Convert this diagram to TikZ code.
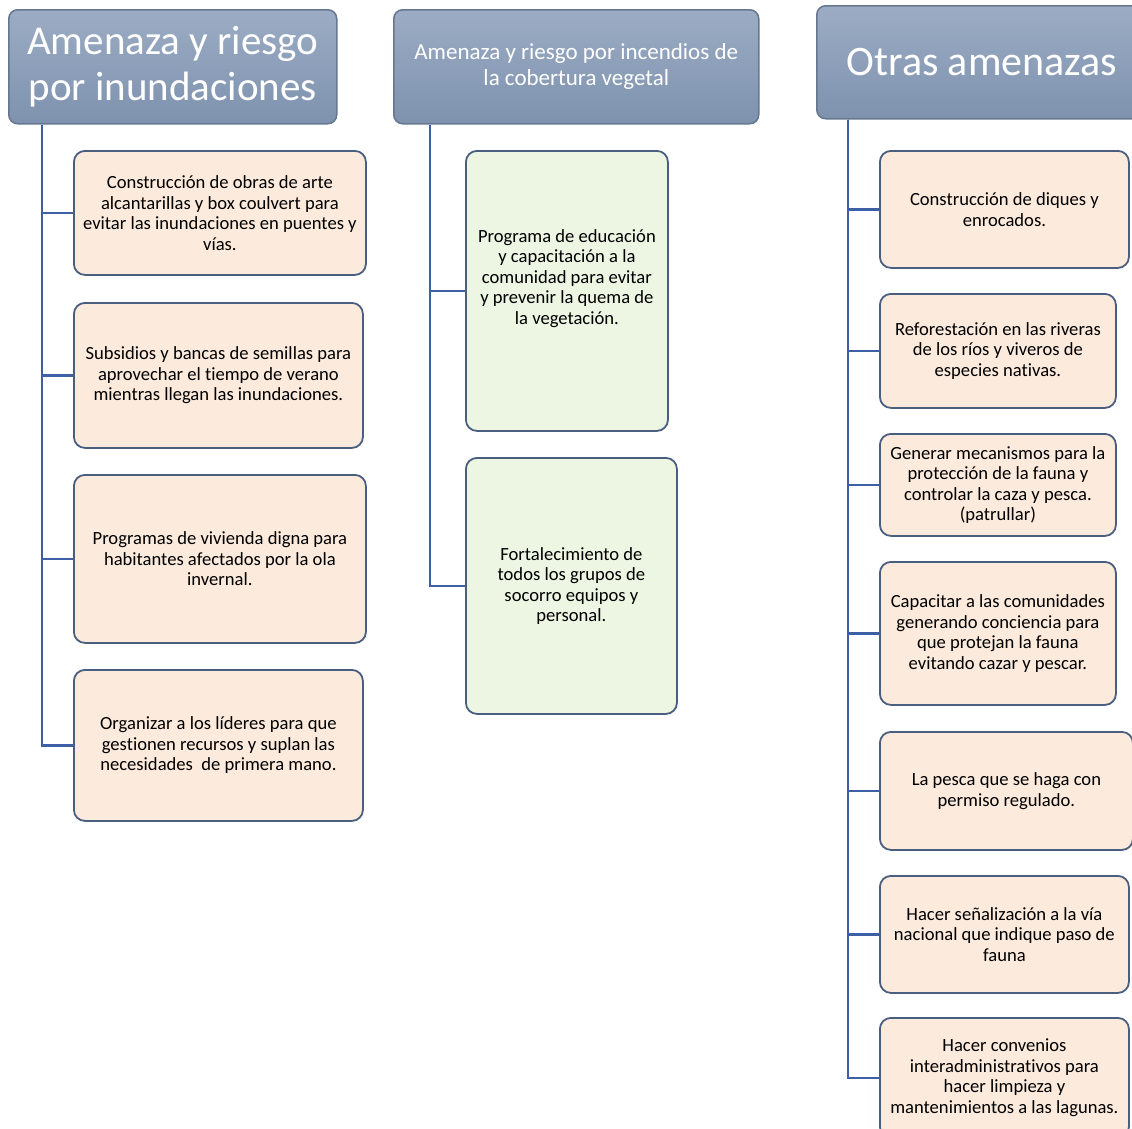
\documentclass[tikz,border=0pt]{standalone}
\usepackage{fontspec}
\setmainfont[Ligatures=NoCommon]{Carlito}
\usetikzlibrary{positioning}
\definecolor{hdrtop}{HTML}{9CACC4}
\definecolor{hdrbot}{HTML}{7E92AE}
\definecolor{hdrline}{HTML}{66778F}
\definecolor{peach}{HTML}{FCEADC}
\definecolor{mint}{HTML}{EDF6E3}
\definecolor{boxline}{HTML}{4A5E80}
\definecolor{connblue}{HTML}{3C5FA6}
\tikzset{
  hdr/.style={draw=hdrline, line width=1.5pt, rounded corners=9pt,
    top color=hdrtop, bottom color=hdrbot, text=white, align=center,
    anchor=north west, inner sep=0pt},
  child/.style={draw=boxline, line width=1.8pt, rounded corners=11pt,
    fill=peach, align=center, anchor=north west, inner sep=0pt,
    font=\fontsize{18.6}{20.5}\selectfont},
  greenchild/.style={child, fill=mint},
  conn/.style={draw=connblue, line width=2.4pt}
}
\begin{document}
\begin{tikzpicture}[x=1pt,y=-1pt]
\useasboundingbox (0,0) rectangle (1132,1128);
\clip (0,0) rectangle (1132,1128);
% headers
\node[hdr, minimum width=328pt, minimum height=114pt,
  font=\fontsize{41}{46}\selectfont] (h1) at (8,9)
  {Amenaza y riesgo\\por inundaciones};
\node[hdr, minimum width=365pt, minimum height=114pt,
  font=\fontsize{23}{26}\selectfont] (h2) at (393,9)
  {Amenaza y riesgo por incendios de\\la cobertura vegetal};
\node[hdr, minimum width=330pt, minimum height=113pt,
  font=\fontsize{42}{46}\selectfont] (h3) at (816,5)
  {Otras amenazas};
% column 1
\node[child, minimum width=292pt, minimum height=124pt] (c1) at (73,150)
  {Construcción de obras de arte\\alcantarillas y box coulvert para\\evitar las inundaciones en puentes y\\vías.};
\node[child, minimum width=289pt, minimum height=145pt] (c2) at (73,302)
  {Subsidios y bancas de semillas para\\aprovechar el tiempo de verano\\mientras llegan las inundaciones.};
\node[child, minimum width=292pt, minimum height=168pt] (c3) at (73,474)
  {Programas de vivienda digna para\\habitantes afectados por la ola\\invernal.};
\node[child, minimum width=289pt, minimum height=151pt] (c4) at (73,669)
  {Organizar a los líderes para que\\gestionen recursos y suplan las\\necesidades\ \ de primera mano.};
% column 2
\node[greenchild, minimum width=202pt, minimum height=280pt] (g1) at (465,150)
  {Programa de educación\\y capacitación a la\\comunidad para evitar\\y prevenir la quema de\\la vegetación.\\[8pt]};
\node[greenchild, minimum width=211pt, minimum height=256pt] (g2) at (465,457)
  {Fortalecimiento de\\todos los grupos de\\socorro equipos y\\personal.};
% column 3
\node[child, minimum width=249pt, minimum height=117pt] (o1) at (879,150)
  {Construcción de diques y\\enrocados.};
\node[child, minimum width=236pt, minimum height=114pt] (o2) at (879,293)
  {Reforestación en las riveras\\de los ríos y viveros de\\especies nativas.};
\node[child, minimum width=236pt, minimum height=102pt] (o3) at (879,433)
  {Generar mecanismos para la\\protección de la fauna y\\controlar la caza y pesca.\\(patrullar)};
\node[child, minimum width=236pt, minimum height=143pt] (o4) at (879,561)
  {Capacitar a las comunidades\\generando conciencia para\\que protejan la fauna\\evitando cazar y pescar.};
\node[child, minimum width=253pt, minimum height=118pt] (o5) at (879,731)
  {La pesca que se haga con\\permiso regulado.};
\node[child, minimum width=249pt, minimum height=117pt] (o6) at (879,875)
  {Hacer señalización a la vía\\nacional que indique paso de\\fauna};
\node[child, minimum width=249pt, minimum height=120pt] (o7) at (879,1017)
  {Hacer convenios\\interadministrativos para\\hacer limpieza y\\mantenimientos a las lagunas.};
% connectors
\foreach \c in {c1,c2,c3,c4}
  \draw[conn] ([xshift=34pt]h1.south west) |- (\c.west);
\foreach \c in {g1,g2}
  \draw[conn] ([xshift=37pt]h2.south west) |- (\c.west);
\foreach \c in {o1,o2,o3,o4,o5,o6,o7}
  \draw[conn] ([xshift=32pt]h3.south west) |- (\c.west);
\end{tikzpicture}
\end{document}
